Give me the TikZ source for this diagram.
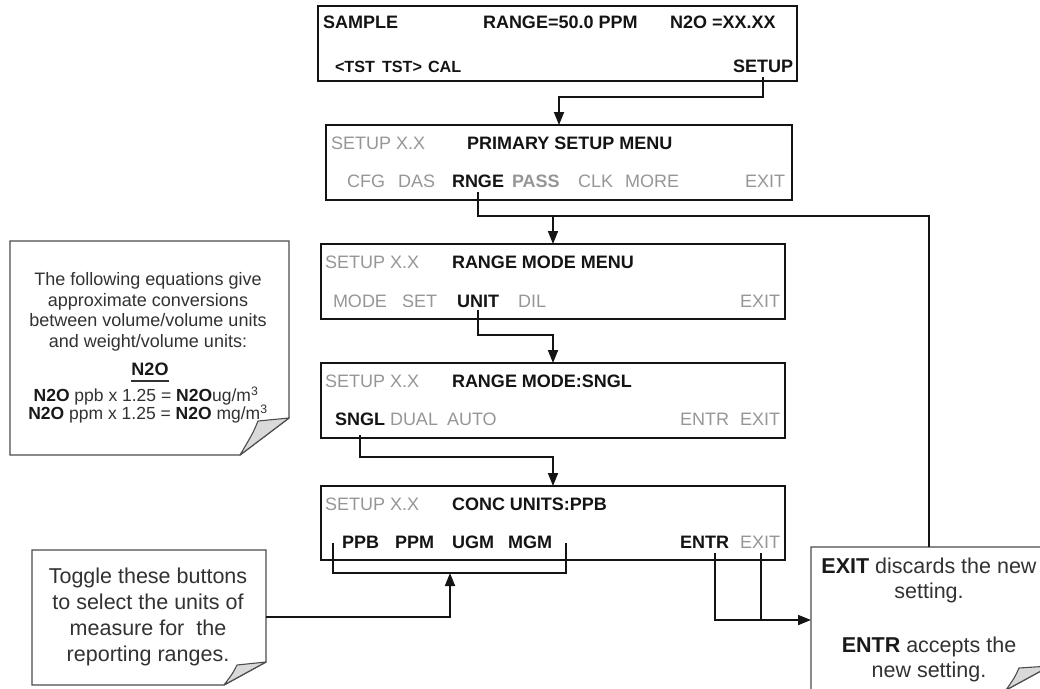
\documentclass[tikz,border=0pt]{standalone}
\usepackage{fontspec}
\setmainfont{Liberation Sans}
\usetikzlibrary{arrows.meta,calc}
\definecolor{scrgray}{RGB}{150,150,150}
\definecolor{txtdark}{RGB}{50,50,50}
\begin{document}
\begin{tikzpicture}[x=1pt,y=-1pt,
  lcd/.style={draw=black!92, line width=2.4pt, inner sep=0pt, outer sep=0pt, anchor=north west},
  scr/.style={anchor=base west, inner sep=0pt, outer sep=0pt, font=\fontsize{18}{20}\selectfont},
  hl/.style={scr, font=\fontsize{18}{20}\selectfont\bfseries, text=black!92},
  hls/.style={hl, font=\fontsize{16.2}{20}\selectfont\bfseries},
  dim/.style={scr, text=scrgray},
  dimb/.style={hl, text=scrgray},
  wire/.style={line width=1.8pt, draw=black!92},
  arr/.style={wire, -{Triangle[length=13pt,width=10pt]}},
  note/.style={draw=black!70, line width=1.3pt, fill=white, line join=miter},
  fold/.style={draw=black!70, line width=1.1pt, fill=black!15, line join=round},
  ntext/.style={inner sep=0pt, outer sep=0pt, text=txtdark}
]
\useasboundingbox (0,0) rectangle (1040,688);
\clip (0,0) rectangle (1040,688);

% ---------- callouts ----------
\draw[note] (10,241) -- (289,241) -- (289,418) -- (240,455) -- (10,455) -- cycle;
\draw[fold] (289,418) -- (258,421) .. controls (253,433) .. (240,455) -- cycle;
\draw[note] (32,550) -- (266,550) -- (266,662) -- (224,685) -- (32,685) -- cycle;
\draw[fold] (266,662) -- (237,665) .. controls (233,673) .. (224,685) -- cycle;
\draw[note] (811,547) -- (1050,547) -- (1050,666) -- (1006,690) -- (811,690) -- cycle;
\draw[fold] (1050,666) -- (1019,668) .. controls (1015,677) .. (1006,690) -- cycle;
\coordinate (n2e) at (266,617);
\coordinate (n3w) at (811,620);
\coordinate (n3top) at (929,547);

\node[ntext, anchor=north, align=center, font=\fontsize{18}{20.5}\selectfont] (c1) at (148,272.6)
  {The following equations give\\approximate conversions\\between volume/volume units\\and weight/volume units:};
\node[ntext, anchor=base, text=black!90, font=\fontsize{18}{20}\selectfont\bfseries] (c1h) at (150,375) {N2O};
\draw[line width=1.4pt, txtdark] ([yshift=-6pt]c1h.south west) -- ([yshift=-6pt]c1h.south east);
\node[ntext, anchor=base, font=\fontsize{17.5}{18}\selectfont] (c1e1) at (146,401.5)
  {\textbf{\color{black!90}N2O} ppb x 1.25 = \textbf{\color{black!90}N2O}ug/m\textsuperscript{3}};
\node[ntext, anchor=base, font=\fontsize{17.5}{18}\selectfont] (c1e2) at (148,419.5)
  {\textbf{\color{black!90}N2O} ppm x 1.25 = \textbf{\color{black!90}N2O} mg/m\textsuperscript{3}};

\node[ntext, anchor=north, align=center, font=\fontsize{21.5}{26}\selectfont] (c2) at (148,567.6)
  {Toggle these buttons\\to select the units of\\measure for\ \ the\\reporting ranges.};
\node[ntext, anchor=north, align=center, font=\fontsize{21.5}{25}\selectfont] (c3) at (929,557.6)
  {\textbf{\color{black!90}EXIT} discards the new\\setting.\\[29pt]\textbf{\color{black!90}ENTR} accepts the\\new setting.};

% ---------- screens ----------
\node[lcd, minimum width=479pt, minimum height=75pt] (s1) at (318,6) {};
\node[lcd, minimum width=466pt, minimum height=75pt] (s2) at (326,125) {};
\node[lcd, minimum width=464pt, minimum height=75pt] (s3) at (321,244) {};
\node[lcd, minimum width=464pt, minimum height=75pt] (s4) at (321,363) {};
\node[lcd, minimum width=464pt, minimum height=74pt] (s5) at (321,486) {};

% screen 1
\node[hl] (s1a) at (323,28) {SAMPLE};
\node[hl] (s1b) at (483,28) {RANGE=50.0 PPM};
\node[hl] (s1c) at (670,28) {N2O =XX.XX};
\node[hls] (tstl) at (335,72) {<TST};
\node[hls] (tstr) at (382,72) {TST>};
\node[hls] (cal) at (428,72) {CAL};
\node[hl] (setup) at (733,72) {SETUP};

% screen 2
\node[dim] (s2a) at (331,149) {SETUP X.X};
\node[hl] (s2b) at (467,149) {PRIMARY SETUP MENU};
\node[dim] (cfg) at (347,187) {CFG};
\node[dim] (das) at (398,187) {DAS};
\node[hl] (rnge) at (452,187) {RNGE};
\node[dimb] (pass) at (512,187) {PASS};
\node[dim] (clk) at (578,187) {CLK};
\node[dim] (more) at (625,187) {MORE};
\node[dim] (exit2) at (745,187) {EXIT};

% screen 3
\node[dim] (s3a) at (325,268) {SETUP X.X};
\node[hl] (s3b) at (452,268) {RANGE MODE MENU};
\node[dim] (mode) at (333,307) {MODE};
\node[dim] (set) at (402,307) {SET};
\node[hl] (unit) at (457,307) {UNIT};
\node[dim] (dil) at (518,307) {DIL};
\node[dim] (exit3) at (740,307) {EXIT};

% screen 4
\node[dim] (s4a) at (325,387) {SETUP X.X};
\node[hl] (s4b) at (452,387) {RANGE MODE:SNGL};
\node[hl] (sngl) at (335,425) {SNGL};
\node[dim] (dual) at (390,425) {DUAL};
\node[dim] (auto) at (447,425) {AUTO};
\node[dim] (entr4) at (680,425) {ENTR};
\node[dim] (exit4) at (740,425) {EXIT};

% screen 5
\node[dim] (s5a) at (325,510) {SETUP X.X};
\node[hl] (s5b) at (452,510) {CONC UNITS:PPB};
\node[hl] (ppb) at (342,548) {PPB};
\node[hl] (ppm) at (395,548) {PPM};
\node[hl] (ugm) at (452,548) {UGM};
\node[hl] (mgm) at (508,548) {MGM};
\node[hl] (entr5) at (680,548) {ENTR};
\node[dim] (exit5) at (740,548) {EXIT};

% ---------- connectors ----------
\draw[arr] ([yshift=-5pt]setup.south) |- ($(s2.north)+(0,-28)$) -- (s2.north);

\coordinate (j2) at ($(s3.north)+(0,-28)$);
\draw[wire] ([yshift=-5pt]rnge.south) |- (j2) -| (n3top);
\draw[arr] (j2) -- (s3.north);

\draw[arr] ([yshift=-3pt]unit.south) |- ($(s4.north)+(0,-28)$) -- (s4.north);
\draw[arr] ([yshift=-10pt]sngl.south) |- ($(s5.north)+(0,-29)$) -- (s5.north);

\coordinate (bl) at ($(ppb.base west)+(-9,-5)$);
\coordinate (br) at ($(mgm.base east)+(14,-5)$);
\coordinate (bj) at (450,573);
\draw[wire] (bl) |- (bj) -| (br);
\draw[arr] (n2e) -| (bj);

\coordinate (eA) at ($(entr5.base west)+(35,5)$);
\coordinate (eB) at ($(exit5.base west)+(21,5)$);
\draw[arr] (eA) |- (n3w);
\draw[wire] (eB) -- (eB |- n3w);
\end{tikzpicture}
\end{document}
